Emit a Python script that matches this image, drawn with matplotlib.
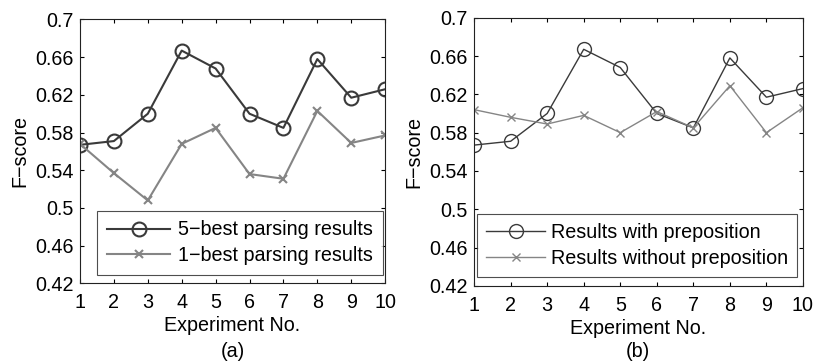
import matplotlib
matplotlib.use("Agg")
import matplotlib.pyplot as plt

experiments = [1, 2, 3, 4, 5, 6, 7, 8, 9, 10]
best5 = [0.567, 0.571, 0.600, 0.667, 0.648, 0.600, 0.585, 0.658, 0.617, 0.626]
best1 = [0.568, 0.537, 0.508, 0.568, 0.585, 0.536, 0.531, 0.603, 0.569, 0.577]
with_prep = [0.567, 0.571, 0.600, 0.667, 0.648, 0.600, 0.585, 0.658, 0.617, 0.626]
without_prep = [0.604, 0.596, 0.589, 0.598, 0.580, 0.602, 0.585, 0.629, 0.580, 0.606]
yticks = [0.42, 0.46, 0.5, 0.54, 0.58, 0.62, 0.66, 0.7]
ytick_labels = ["0.42", "0.46", "0.5", "0.54", "0.58", "0.62", "0.66", "0.7"]

plt.rcParams['font.family'] = ['Liberation Sans', 'DejaVu Sans']
dark = '#3a3a3a'
light = '#858585'
FS = 14.2

fig = plt.figure(figsize=(8.16, 3.61), dpi=100)
ax1 = fig.add_axes([0.098, 0.215, 0.374, 0.731])
ax2 = fig.add_axes([0.581, 0.208, 0.403, 0.743])

def style(ax):
    ax.set_xlim(1, 10)
    ax.set_ylim(0.42, 0.7)
    ax.set_xticks(experiments)
    ax.set_yticks(yticks)
    ax.set_yticklabels(ytick_labels)
    ax.tick_params(direction='in', top=True, right=True, labelsize=FS, length=3, width=0.8)
    ax.tick_params(axis='y', pad=4.5)
    ax.tick_params(axis='x', pad=7)
    for s in ax.spines.values():
        s.set_linewidth(0.8)
        s.set_color('#222222')
    ax.set_xlabel('Experiment No.', fontsize=FS, labelpad=3)
    ax.set_ylabel('F\u2212score', fontsize=FS, labelpad=4)

ax1.plot(experiments, best5, color=dark, lw=1.5, marker='o', ms=10, mfc='none', mec=dark, mew=1.5,
         label='5\u2212best parsing results')
ax1.plot(experiments, best1, color=light, lw=1.5, marker='x', ms=6, mec=light, mew=1.5,
         label='1\u2212best parsing results')
style(ax1)
leg1 = ax1.legend(loc='lower right', bbox_to_anchor=(0.993, 0.031), fontsize=FS, frameon=True,
                  fancybox=False, edgecolor='#222222', borderaxespad=0, handlelength=3.2,
                  handletextpad=0.4, labelspacing=0.35, borderpad=0.5)
leg1.get_frame().set_linewidth(0.8)

ax2.plot(experiments, with_prep, color=dark, lw=1.0, marker='o', ms=10, mfc='none', mec=dark, mew=1.0,
         label='Results with preposition')
ax2.plot(experiments, without_prep, color=light, lw=1.0, marker='x', ms=6, mec=light, mew=1.0,
         label='Results without preposition')
style(ax2)
leg2 = ax2.legend(loc='lower right', bbox_to_anchor=(0.983, 0.034), fontsize=FS, frameon=True,
                  fancybox=False, edgecolor='#222222', borderaxespad=0, handlelength=3.0,
                  handletextpad=0.3, labelspacing=0.35, borderpad=0.45)
leg2.get_frame().set_linewidth(0.8)

fig.text(0.285, 0.025, '(a)', ha='center', va='center', fontsize=FS)
fig.text(0.782, 0.025, '(b)', ha='center', va='center', fontsize=FS)

fig.savefig('out.png', dpi=100)
